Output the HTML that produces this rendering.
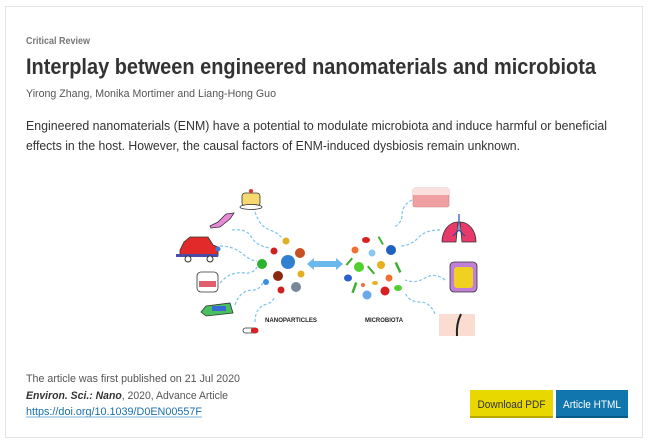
<!DOCTYPE html>
<html><head><meta charset="utf-8"><style>
html,body{margin:0;padding:0;background:#fff;width:650px;height:444px;overflow:hidden}
svg{display:block}
text{font-family:"Liberation Sans",sans-serif}
</style></head><body>
<svg width="650" height="444" viewBox="0 0 650 444" xmlns="http://www.w3.org/2000/svg">
<rect x="5.5" y="6.5" width="637" height="431" fill="#fff" stroke="#e4e4e4"/>
<text x="26" y="44" font-size="10" font-weight="bold" fill="#777" textLength="64" lengthAdjust="spacingAndGlyphs">Critical Review</text>
<text x="26" y="74" font-size="22" font-weight="bold" fill="#333" textLength="570" lengthAdjust="spacingAndGlyphs">Interplay between engineered nanomaterials and microbiota</text>
<text x="26" y="97" font-size="11" fill="#555" textLength="250" lengthAdjust="spacingAndGlyphs">Yirong Zhang, Monika Mortimer and Liang-Hong Guo</text>
<text x="26" y="130" font-size="13" fill="#333" textLength="581" lengthAdjust="spacingAndGlyphs">Engineered nanomaterials (ENM) have a potential to modulate microbiota and induce harmful or beneficial</text>
<text x="26" y="150" font-size="13" fill="#333" textLength="494" lengthAdjust="spacingAndGlyphs">effects in the host. However, the causal factors of ENM-induced dysbiosis remain unknown.</text>

<!-- figure -->
<g fill="none" stroke="#7cc4ee" stroke-width="1.2" stroke-dasharray="3,2">
<path d="M255 212 q5 15 15 18 q8 3 12 8"/>
<path d="M232 230 q15 -2 20 8 q5 8 18 10"/>
<path d="M220 246 q15 0 25 10 q8 5 12 5"/>
<path d="M220 283 q10 -12 25 -10 q8 1 12 -6"/>
<path d="M235 305 q5 -15 18 -15 q7 0 10 -8"/>
<path d="M255 322 q0 -15 12 -18 q6 -2 8 -8"/>
<path d="M412 200 q-10 5 -10 15 q0 8 -8 12"/>
<path d="M440 230 q-15 0 -22 8 q-8 8 -18 8"/>
<path d="M445 280 q-10 -8 -20 -2 q-10 6 -20 2"/>
<path d="M435 314 q-5 -12 -15 -12 q-12 0 -15 -10"/>
</g>
<!-- sources -->
<rect x="242" y="193" width="18" height="13" rx="3" fill="#f5d870" stroke="#333" stroke-width=".8"/>
<ellipse cx="251" cy="207" rx="11" ry="2.5" fill="#fff" stroke="#333" stroke-width=".8"/>
<circle cx="251" cy="191" r="2" fill="#e03030"/>
<path d="M210 226 l8 -4 l8 -8 l8 -1 l-4 6 l-10 8 l-9 1z" fill="#e68ad8" stroke="#333" stroke-width=".8"/>
<path d="M180 250 l4 -8 l6 -5 l18 0 l5 8 l5 2 l0 9 l-38 0z" fill="#e22a2a" stroke="#333" stroke-width=".8"/>
<rect x="176" y="254" width="42" height="3" fill="#4a4aa8"/>
<circle cx="188" cy="259" r="3" fill="#fff" stroke="#333"/><circle cx="210" cy="259" r="3" fill="#fff" stroke="#333"/>
<circle cx="218" cy="249" r="2.5" fill="#3a7be0"/>
<rect x="197" y="272" width="21" height="20" rx="4" fill="#fff" stroke="#333" stroke-width=".8"/>
<rect x="199" y="281" width="17" height="6" fill="#e06070"/>
<path d="M201 312 l5 -6 l24 -3 l3 10 l-27 3z" fill="#48c060" stroke="#333" stroke-width=".8"/>
<rect x="212" y="306" width="14" height="5" fill="#3a6ad8"/>
<rect x="243" y="328" width="15" height="5" rx="2.5" fill="#fff" stroke="#333" stroke-width=".8"/>
<rect x="251" y="328" width="7" height="5" rx="2" fill="#e02020"/>
<!-- particles -->
<circle cx="286" cy="241" r="3.5" fill="#e0b020"/>
<circle cx="274" cy="251" r="3.5" fill="#d02020"/>
<circle cx="300" cy="253" r="5" fill="#c85020"/>
<circle cx="262" cy="264" r="5" fill="#30b030"/>
<circle cx="288" cy="262" r="7" fill="#3080d0"/>
<circle cx="278" cy="276" r="5" fill="#8a2a10"/>
<circle cx="301" cy="274" r="3.5" fill="#e0b020"/>
<circle cx="266" cy="282" r="3" fill="#3a90e0"/>
<circle cx="296" cy="287" r="5" fill="#789"/>
<circle cx="281" cy="290" r="3.5" fill="#d02020"/>
<path d="M307 264 l7 -6 v3 h22 v-3 l7 6 l-7 6 v-3 h-22 v3z" fill="#6ab8ec"/>
<text x="265" y="322" font-size="6.5" font-weight="bold" fill="#222" textLength="52" lengthAdjust="spacingAndGlyphs">NANOPARTICLES</text>
<text x="365" y="322" font-size="6.5" font-weight="bold" fill="#222" textLength="38" lengthAdjust="spacingAndGlyphs">MICROBIOTA</text>
<!-- microbiota -->
<ellipse cx="366" cy="240" rx="4" ry="3" fill="#d82020"/>
<rect x="380" y="236" width="2" height="9" fill="#40b030" transform="rotate(-30 381 241)"/>
<circle cx="355" cy="250" r="3.5" fill="#f07030"/>
<circle cx="372" cy="253" r="3.5" fill="#8cc8f0"/>
<circle cx="391" cy="250" r="5" fill="#2060c0"/>
<rect x="348" y="257" width="2" height="9" fill="#40b030" transform="rotate(40 349 262)"/>
<circle cx="359" cy="267" r="5" fill="#50d030"/>
<circle cx="381" cy="265" r="4" fill="#e8b020"/>
<rect x="370" y="265" width="2" height="10" fill="#40b030" transform="rotate(-40 371 270)"/>
<rect x="397" y="262" width="2.5" height="11" fill="#40b030" transform="rotate(-25 398 268)"/>
<ellipse cx="348" cy="278" rx="4" ry="3.5" fill="#2a60d0"/>
<circle cx="389" cy="278" r="3.5" fill="#f07030"/>
<circle cx="363" cy="285" r="2" fill="#f07030"/>
<ellipse cx="375" cy="283" rx="3" ry="2" fill="#e8b020"/>
<rect x="353" y="282" width="2.5" height="11" fill="#40b030" transform="rotate(20 354 288)"/>
<circle cx="385" cy="291" r="4.5" fill="#d82020"/>
<ellipse cx="398" cy="288" rx="4" ry="3" fill="#50d030"/>
<circle cx="367" cy="295" r="4.5" fill="#6aa8e8"/>
<!-- organs -->
<rect x="413" y="188" width="36" height="19" rx="2" fill="#f0a0a0" stroke="#d08080" stroke-width=".6"/>
<rect x="413" y="188" width="36" height="7" fill="#fbe0e0"/>
<path d="M458 222 c-10 0 -16 10 -16 20 l14 0z M460 222 c10 0 16 10 16 20 l-14 0z" fill="#e83a6a" stroke="#333" stroke-width=".8"/>
<path d="M459 214 v16 m0 0 l-6 6 m6 -6 l6 6" stroke="#2a4ab0" stroke-width="1.2" fill="none"/>
<rect x="450" y="262" width="27" height="30" rx="4" fill="#c080d8" stroke="#333" stroke-width=".8"/>
<rect x="454" y="267" width="19" height="21" rx="3" fill="#f0d020"/>
<rect x="439" y="314" width="36" height="22" fill="#fadcd0"/>
<path d="M457 336 q-1 -12 4 -22" stroke="#222" stroke-width="2" fill="none"/>

<!-- footer -->
<text x="26" y="382" font-size="11" fill="#555" textLength="214" lengthAdjust="spacingAndGlyphs">The article was first published on 21 Jul 2020</text>
<text x="26" y="399" font-size="11" fill="#555" textLength="202" lengthAdjust="spacingAndGlyphs"><tspan font-weight="bold" font-style="italic" fill="#333">Environ. Sci.: Nano</tspan>, 2020, Advance Article</text>
<text x="26" y="415" font-size="11" fill="#1a6fa8" textLength="176" lengthAdjust="spacingAndGlyphs">https://doi.org/10.1039/D0EN00557F</text>
<line x1="26" y1="417" x2="202" y2="417" stroke="#7ab0d8" stroke-width="1"/>
<rect x="470" y="390" width="83" height="28" fill="#e8d800"/>
<rect x="470" y="416" width="83" height="2" fill="#b8a800"/>
<text x="511.5" y="408" font-size="11" fill="#333" text-anchor="middle" textLength="68" lengthAdjust="spacingAndGlyphs">Download PDF</text>
<rect x="556" y="390" width="72" height="28" fill="#1176ae"/>
<rect x="556" y="416" width="72" height="2" fill="#0a5a88"/>
<text x="592" y="408" font-size="11" fill="#fff" text-anchor="middle" textLength="58" lengthAdjust="spacingAndGlyphs">Article HTML</text>
</svg>
</body></html>
